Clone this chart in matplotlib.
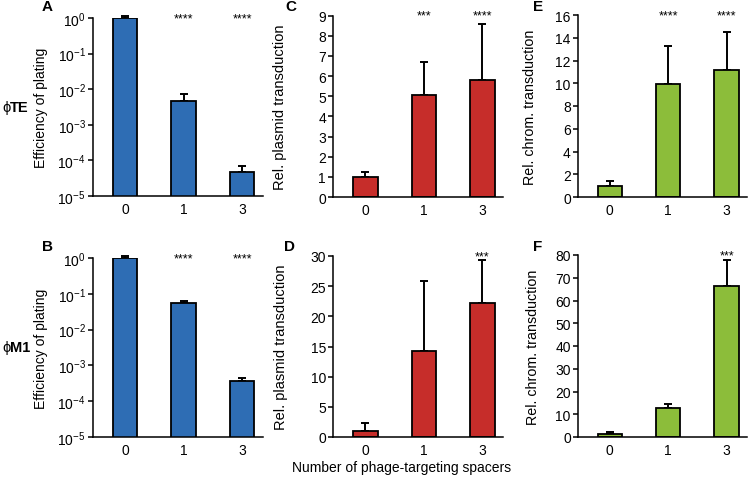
import matplotlib
matplotlib.use('Agg')
import matplotlib.pyplot as plt
import matplotlib.transforms as mtransforms
from matplotlib.ticker import LogLocator, LogFormatterSciNotation, NullLocator

plt.rcParams['font.family'] = ['Liberation Sans', 'DejaVu Sans']
plt.rcParams['mathtext.fontset'] = 'custom'
plt.rcParams['mathtext.rm'] = 'Liberation Sans'
plt.rcParams['mathtext.default'] = 'regular'

# Data
spacers = ['0', '1', '3']

eop_te = [1.0, 4.8e-3, 4.7e-5]
eop_te_err = [0.12, 2.6e-3, 2.1e-5]
eop_m1 = [1.0, 0.054, 3.7e-4]
eop_m1_err = [0.12, 0.008, 0.7e-4]

plasmid_te = [1.01, 5.05, 5.81]
plasmid_te_err = [0.23, 1.64, 2.8]
plasmid_m1 = [1.0, 14.2, 22.2]
plasmid_m1_err = [1.3, 11.6, 7.1]

chrom_te = [1.0, 9.94, 11.17]
chrom_te_err = [0.45, 3.3, 3.35]
chrom_m1 = [1.3, 12.6, 66.5]
chrom_m1_err = [0.7, 1.9, 11.2]

stars_a = ['', '****', '****']
stars_b = ['', '****', '****']
stars_c = ['', '***', '****']
stars_d = ['', '', '***']
stars_e = ['', '****', '****']
stars_f = ['', '', '***']

blue = '#2e6db4'
red = '#c62d2a'
green = '#8cbd3a'

W, H = 750, 485
fig = plt.figure(figsize=(7.5, 4.85), dpi=100)


def px_axes(left, top, right, bottom):
  return fig.add_axes([left / W, 1 - bottom / H, (right - left) / W, (bottom - top) / H])


def draw_panel(ax, vals, errs, colour, stars, ylabel, label_x, letter, letter_xy,
               log=False, ylim=None, yticks=None, label_size=10):
  x = list(range(len(spacers)))
  ax.bar(x, vals, width=0.42, color=colour, edgecolor='black', linewidth=1.3, zorder=2)
  eb = ax.errorbar(x, vals, yerr=[[0] * len(errs), errs], fmt='none', ecolor='black',
                   elinewidth=1.4, capsize=3, capthick=1.4, zorder=1)
  for art in eb.lines[1] + eb.lines[2]:
    art.set_clip_on(False)
  if log:
    ax.set_yscale('log')
    ax.yaxis.set_major_locator(LogLocator(base=10, numticks=10))
    ax.yaxis.set_major_formatter(LogFormatterSciNotation())
    ax.yaxis.set_minor_locator(NullLocator())
  ax.set_ylim(*ylim)
  if yticks is not None:
    ax.set_yticks(yticks)
  ax.set_xlim(-0.55, 2.35)
  ax.set_xticks(x)
  ax.set_xticklabels(spacers)
  for s in ['top', 'right']:
    ax.spines[s].set_visible(False)
  for s in ['left', 'bottom']:
    ax.spines[s].set_linewidth(1.1)
  ax.tick_params(axis='y', length=3.5, width=1.1, labelsize=10, pad=1.5)
  ax.tick_params(axis='x', length=0, labelsize=10, pad=4)
  ax.set_ylabel(ylabel, fontsize=label_size)
  ax.yaxis.set_label_coords(label_x, 0.5)
  trans = mtransforms.blended_transform_factory(ax.transData, ax.transAxes)
  for xi, st in zip(x, stars):
    if st:
      ax.text(xi, 1.0, st, transform=trans, ha='center', va='center', fontsize=9)
  fig.text(letter_xy[0] / W, 1 - letter_xy[1] / H, letter, fontsize=11, fontweight='bold',
           ha='left', va='center')


ax_a = px_axes(92.7, 19, 262.7, 197)
ax_c = px_axes(333, 16.7, 503, 198)
ax_e = px_axes(577.7, 16, 747, 198)
ax_b = px_axes(92.7, 259, 262.7, 438)
ax_d = px_axes(333, 257, 503, 438)
ax_f = px_axes(577.7, 256, 747, 438)

draw_panel(ax_a, eop_te, eop_te_err, blue, stars_a, 'Efficiency of plating', -0.263, 'A', (42, 7),
           log=True, ylim=(1e-5, 1.0))
draw_panel(ax_b, eop_m1, eop_m1_err, blue, stars_b, 'Efficiency of plating', -0.263, 'B', (42, 247),
           log=True, ylim=(1e-5, 1.0))
draw_panel(ax_c, plasmid_te, plasmid_te_err, red, stars_c, 'Rel. plasmid transduction', -0.27, 'C', (285, 7),
           ylim=(0, 9), yticks=range(0, 10), label_size=10.5)
draw_panel(ax_d, plasmid_m1, plasmid_m1_err, red, stars_d, 'Rel. plasmid transduction', -0.265, 'D', (284, 247),
           ylim=(0, 30), yticks=range(0, 31, 5), label_size=10.5)
draw_panel(ax_e, chrom_te, chrom_te_err, green, stars_e, 'Rel. chrom. transduction', -0.24, 'E', (533, 7),
           ylim=(0, 16), yticks=range(0, 17, 2), label_size=10.3)
draw_panel(ax_f, chrom_m1, chrom_m1_err, green, stars_f, 'Rel. chrom. transduction', -0.22, 'F', (533, 247),
           ylim=(0, 80), yticks=range(0, 81, 10), label_size=10.3)

fig.text(2 / W, 1 - 108 / H, 'ϕ', fontsize=10.5, ha='left', va='center')
fig.text(10 / W, 1 - 108 / H, 'TE', fontsize=10.5, fontweight='bold', ha='left', va='center')
fig.text(2 / W, 1 - 348 / H, 'ϕ', fontsize=10.5, ha='left', va='center')
fig.text(10 / W, 1 - 348 / H, 'M1', fontsize=10.5, fontweight='bold', ha='left', va='center')
fig.text(402 / W, 1 - 468 / H, 'Number of phage-targeting spacers', fontsize=10, ha='center', va='center')

fig.savefig('out.png', dpi=100)
